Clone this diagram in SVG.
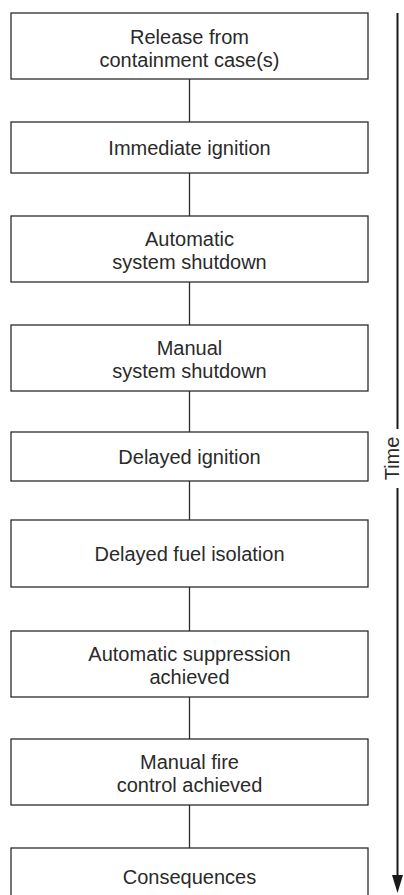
<svg xmlns="http://www.w3.org/2000/svg" width="404" height="895" viewBox="0 0 404 895">
  <style>
    .box { fill: #ffffff; stroke: #2b2b2b; stroke-width: 1.3; }
    .link { stroke: #2b2b2b; stroke-width: 1.3; fill: none; }
    .axis { stroke: #1a1a1a; stroke-width: 2; fill: none; }
    text { font-family: "Liberation Sans", Arial, sans-serif; font-size: 20px; fill: #2a2a2a; text-anchor: middle; }
  </style>
  <rect width="404" height="895" fill="#ffffff"/>

  <!-- vertical links between the steps -->
  <g id="connectors">
    <line class="link" x1="189.5" y1="79" x2="189.5" y2="122"/>
    <line class="link" x1="189.5" y1="173" x2="189.5" y2="216"/>
    <line class="link" x1="189.5" y1="282" x2="189.5" y2="325"/>
    <line class="link" x1="189.5" y1="391" x2="189.5" y2="432"/>
    <line class="link" x1="189.5" y1="481" x2="189.5" y2="520"/>
    <line class="link" x1="189.5" y1="587" x2="189.5" y2="631"/>
    <line class="link" x1="189.5" y1="697" x2="189.5" y2="739"/>
    <line class="link" x1="189.5" y1="805" x2="189.5" y2="848"/>
  </g>

  <g id="n1">
    <rect class="box" x="11" y="13" width="357" height="66"/>
    <text x="189.5" y="44">Release from</text>
    <text x="189.5" y="67">containment case(s)</text>
  </g>
  <g id="n2">
    <rect class="box" x="11" y="122" width="357" height="51"/>
    <text x="189.5" y="155">Immediate ignition</text>
  </g>
  <g id="n3">
    <rect class="box" x="11" y="216" width="357" height="66"/>
    <text x="189.5" y="246">Automatic</text>
    <text x="189.5" y="269">system shutdown</text>
  </g>
  <g id="n4">
    <rect class="box" x="11" y="325" width="357" height="66"/>
    <text x="189.5" y="355">Manual</text>
    <text x="189.5" y="378">system shutdown</text>
  </g>
  <g id="n5">
    <rect class="box" x="11" y="432" width="357" height="49"/>
    <text x="189.5" y="463.5">Delayed ignition</text>
  </g>
  <g id="n6">
    <rect class="box" x="11" y="520" width="357" height="67"/>
    <text x="189.5" y="560.5">Delayed fuel isolation</text>
  </g>
  <g id="n7">
    <rect class="box" x="11" y="631" width="357" height="66"/>
    <text x="189.5" y="661">Automatic suppression</text>
    <text x="189.5" y="684">achieved</text>
  </g>
  <g id="n8">
    <rect class="box" x="11" y="739" width="357" height="66"/>
    <text x="189.5" y="769">Manual fire</text>
    <text x="189.5" y="792">control achieved</text>
  </g>
  <g id="n9">
    <rect class="box" x="11" y="848" width="357" height="60"/>
    <text x="189.5" y="883.5">Consequences</text>
  </g>

  <!-- time axis on the right -->
  <g id="time-axis">
    <line class="axis" x1="397.5" y1="13" x2="397.5" y2="429"/>
    <line class="axis" x1="397.5" y1="488" x2="397.5" y2="878"/>
    <path d="M392,875 L403,875 L397.5,893 Z" fill="#1a1a1a"/>
    <text x="0" y="0" transform="translate(399 458.5) rotate(-90)">Time</text>
  </g>
</svg>
